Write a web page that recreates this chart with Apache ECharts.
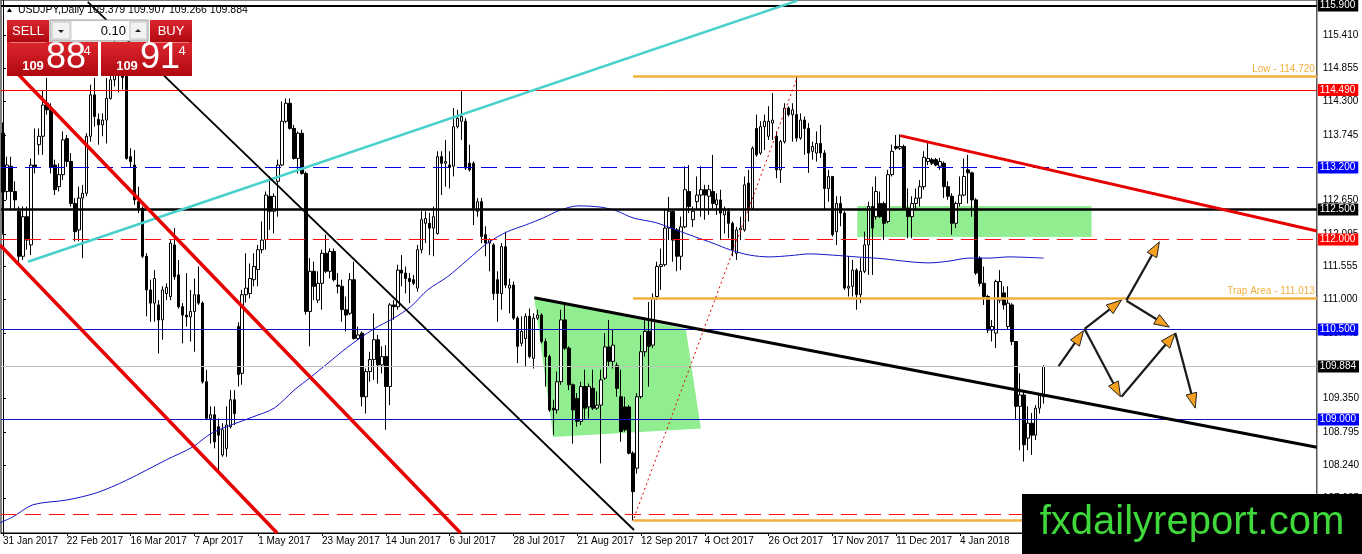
<!DOCTYPE html>
<html><head><meta charset="utf-8">
<script src="https://cdn.jsdelivr.net/npm/echarts@6/dist/echarts.min.js"></script>
<style>html,body{margin:0;padding:0;background:#fff}#c{width:1362px;height:554px}</style>
</head><body><div id="c"></div>
<script>
// Daily USDJPY bars: [open, high, low, close]
const ohlc = [
[113.77,113.95,112.08,112.79],[112.80,113.38,112.66,113.24],[113.22,113.38,112.49,112.80],[112.80,112.97,112.49,112.66],
[112.47,112.55,111.63,111.72],[111.72,112.55,111.66,112.38],[112.38,112.55,111.83,111.99],[111.91,113.35,111.74,113.24],
[113.24,113.85,113.10,113.21],[113.58,113.85,113.41,113.72],[113.72,114.49,113.41,114.24],[114.27,114.69,114.08,114.16],
[114.16,114.27,113.10,113.21],[113.24,113.33,112.74,112.83],[112.88,113.27,112.80,113.08],[113.08,113.80,112.99,113.66],
[113.68,113.74,113.21,113.30],[113.30,113.44,112.55,112.60],[112.60,112.69,111.97,112.13],[112.16,112.88,111.97,112.69],
[112.69,112.91,111.69,112.77],[112.77,113.77,112.72,113.72],[113.72,114.58,113.63,114.41],[114.41,114.69,113.88,114.05],
[114.00,114.10,113.58,113.91],[113.91,114.10,113.72,113.99],[113.99,114.69,113.60,114.35],[114.35,114.74,114.33,114.66],
[114.66,115.50,114.55,114.79],[114.79,115.05,114.45,114.75],[114.75,114.95,114.50,114.70],[114.72,114.78,113.33,113.35],
[113.38,113.52,113.19,113.30],[113.24,113.49,112.58,112.66],[112.63,112.88,112.44,112.52],[112.52,112.55,111.69,111.72],
[111.72,111.77,110.72,111.16],[111.16,111.33,110.63,110.94],[110.94,111.49,110.63,111.35],[110.91,110.99,110.10,110.66],
[110.66,111.22,110.33,111.16],[111.10,111.27,110.99,111.20],[111.05,111.99,110.99,111.94],[111.91,112.19,111.33,111.38],
[111.41,111.66,110.85,110.88],[110.88,110.94,110.27,110.74],[110.74,111.44,110.55,110.71],[110.71,111.16,110.30,110.80],
[110.80,111.35,110.13,111.08],[111.08,111.55,110.91,110.94],[110.94,110.97,109.60,109.63],[109.63,109.83,108.99,109.02],
[109.02,109.22,108.60,109.08],[109.08,109.22,108.52,108.63],[108.88,109.02,108.16,108.74],[108.41,108.94,108.38,108.83],
[108.52,109.22,108.38,108.91],[108.88,109.49,108.85,109.33],[109.33,109.49,108.91,109.10],[110.55,110.62,109.55,109.75],
[109.77,111.16,109.58,111.08],[111.08,111.77,110.95,111.19],[111.10,111.60,111.02,111.35],[111.33,111.77,111.22,111.55],
[111.50,111.91,111.22,111.83],[111.83,112.30,111.77,111.99],[112.00,112.80,111.83,112.74],[112.72,113.05,112.16,112.47],
[112.47,112.77,112.10,112.72],[112.97,113.33,112.38,113.24],[113.24,114.30,113.22,113.97],[113.97,114.35,113.94,114.27],
[114.27,114.35,113.83,113.85],[113.85,113.91,113.33,113.35],[113.35,113.80,113.10,113.77],[113.77,113.83,113.08,113.10],
[113.10,113.13,110.75,110.80],[110.80,111.69,110.22,111.47],[111.47,111.63,110.99,111.22],[110.99,111.47,110.94,111.27],
[111.27,111.83,110.83,111.77],[111.77,112.08,111.44,111.47],[111.47,111.85,111.35,111.80],[111.80,111.85,111.30,111.33],
[111.24,111.44,111.10,111.22],[111.22,111.33,110.63,110.83],[110.83,111.05,110.47,110.74],[110.77,111.44,110.74,111.33],
[111.33,111.63,110.33,110.35],[110.35,110.55,110.33,110.41],[110.44,110.47,109.22,109.38],[109.38,109.85,109.10,109.80],
[109.80,110.13,109.63,110.00],[110.00,110.77,109.66,110.33],[110.33,110.41,109.60,109.91],[109.91,110.22,109.77,110.05],
[110.05,110.24,108.83,109.55],[109.55,110.94,109.24,110.91],[110.91,110.99,110.66,110.88],[110.88,111.58,110.83,111.49],
[111.49,111.74,111.22,111.44],[111.44,111.55,111.10,111.35],[111.35,111.44,110.94,111.30],[111.33,111.41,111.24,111.27],
[111.19,111.91,111.13,111.83],[111.83,112.47,111.77,112.33],[112.27,112.47,111.94,112.35],[112.27,112.44,111.74,112.19],
[112.19,112.55,111.72,112.38],[112.10,113.47,112.08,113.38],[113.38,113.47,112.74,113.27],[113.27,113.66,112.88,113.30],
[113.24,113.47,112.85,113.20],[113.22,114.19,113.05,113.88],[113.88,114.16,113.85,114.02],[113.97,114.47,113.66,114.05],
[113.97,114.02,113.16,113.19],[113.27,113.58,113.13,113.16],[113.27,113.30,112.24,112.52],[112.47,112.69,112.38,112.63],
[112.63,112.69,111.94,112.05],[112.08,112.22,111.72,111.94],[111.94,112.02,111.47,112.00],[111.91,111.94,110.99,111.10],
[111.33,111.47,110.63,111.10],[111.10,111.94,110.83,111.88],[111.88,112.13,111.19,111.24],[111.19,111.35,110.77,111.24],
[111.24,111.30,110.66,110.69],[110.69,110.72,109.94,110.22],[110.27,110.72,110.22,110.47],[110.35,110.77,109.88,110.72],
[110.72,110.85,110.02,110.05],[110.02,110.77,109.85,110.69],[110.69,110.83,110.66,110.74],[110.74,110.77,110.27,110.30],
[110.30,110.35,109.55,110.05],[110.05,110.08,109.13,109.16],[109.19,109.33,108.74,109.16],[109.16,109.80,109.10,109.63],
[109.63,110.83,109.58,110.66],[110.66,110.94,110.16,110.19],[110.19,110.22,109.49,109.58],[109.58,109.60,108.60,109.16],
[109.35,109.44,108.88,108.97],[108.97,109.63,108.91,109.55],[109.55,109.83,108.99,109.19],[109.21,109.60,109.02,109.55],
[109.52,109.83,109.16,109.19],[109.19,109.47,109.16,109.24],[109.24,109.83,108.27,109.66],[109.69,110.44,109.66,110.21],
[110.21,110.66,109.88,109.97],[109.97,110.49,109.85,110.24],[109.90,109.95,109.38,109.52],[109.38,109.83,108.63,108.80],
[109.21,109.38,108.80,108.83],[109.21,109.24,108.42,108.44],[108.44,108.47,107.32,107.80],[108.19,109.44,108.10,109.38],
[109.38,110.41,109.35,110.13],[110.13,110.66,110.05,110.47],[110.47,110.96,109.55,110.22],[110.24,111.10,110.19,111.02],
[111.05,111.63,110.99,111.55],[111.55,111.85,111.16,111.58],[111.58,112.49,111.55,112.19],[112.19,112.71,111.99,112.47],
[112.47,112.49,111.63,111.99],[112.16,112.19,111.47,111.72],[111.72,112.38,111.49,112.21],[112.21,113.22,112.19,112.83],
[112.80,113.24,112.44,112.55],[112.33,112.55,112.21,112.47],[112.63,113.05,112.49,112.74],[112.74,113.22,112.38,112.83],
[112.83,112.91,112.33,112.74],[112.72,112.91,112.41,112.83],[112.80,113.41,112.52,112.60],[112.58,112.77,112.41,112.66],
[112.66,112.83,111.99,112.44],[112.41,112.55,112.10,112.49],[112.47,112.52,112.02,112.27],[112.27,112.30,111.72,111.83],
[111.77,112.21,111.66,112.16],[112.16,112.38,111.99,112.19],[112.16,113.05,112.13,112.91],[112.94,113.16,112.30,112.49],
[112.52,113.55,112.49,113.52],[113.85,114.08,113.38,113.41],[113.44,113.97,113.41,113.88],[113.88,114.08,113.49,113.97],
[113.72,114.22,113.66,113.97],[113.94,114.44,113.66,113.99],[113.72,113.80,113.02,113.16],[113.16,113.66,112.94,113.63],
[113.63,114.27,113.60,114.19],[114.19,114.22,114.05,114.08],[114.08,114.27,113.63,114.16],[114.08,114.72,113.63,113.69],
[113.69,114.10,113.66,113.99],[113.99,114.05,113.41,113.85],[113.85,113.94,113.11,113.44],[113.47,113.63,113.33,113.55],
[113.44,113.80,113.30,113.60],[113.60,113.91,113.36,113.44],[113.44,113.49,112.49,112.85],[112.85,113.16,112.63,113.05],
[113.05,113.05,112.05,112.08],[112.13,112.72,111.91,112.60],[112.60,112.72,112.22,112.44],[112.44,112.47,111.16,111.19],
[111.19,111.72,111.05,111.22],[111.22,111.66,111.05,111.49],[111.49,111.52,110.83,111.08],[111.08,111.69,110.94,111.47],
[111.47,112.13,111.44,111.91],[111.91,112.63,111.41,112.55],[112.55,112.88,111.41,112.19],[112.38,113.05,112.33,112.80],
[112.60,112.80,112.36,112.38],[112.60,112.63,111.99,112.27],[112.30,113.16,112.27,113.08],[113.08,113.58,113.05,113.47],
[113.55,113.74,113.49,113.52],[113.52,113.75,113.49,113.55],[113.55,113.58,112.49,112.52],[112.52,112.85,112.02,112.38],
[112.38,112.72,112.02,112.60],[112.60,112.85,112.49,112.69],[112.69,112.99,112.55,112.88],[112.88,113.47,112.83,113.37],
[113.30,113.63,113.24,113.35],[113.33,113.36,113.24,113.27],[113.33,113.36,113.22,113.24],[113.22,113.36,113.16,113.30],
[113.27,113.30,112.69,112.88],[112.88,112.97,112.66,112.72],[112.72,112.77,112.08,112.27],[112.27,112.63,112.19,112.60],
[112.60,113.05,112.55,112.74],[112.74,113.35,112.72,113.05],[113.16,113.41,112.60,113.11],[113.11,113.13,112.38,112.66],
[112.66,112.69,111.41,111.44],[111.69,111.72,111.22,111.27],[111.27,111.55,110.91,111.05],[111.05,111.08,110.44,110.49],
[110.49,110.66,110.30,110.55],[110.44,111.33,110.19,111.30],[110.99,111.49,110.94,111.30],[111.11,111.22,110.83,110.91],
[110.55,111.22,110.49,110.94],[110.91,110.94,110.24,110.30],[110.30,110.30,108.99,109.22],[109.22,109.77,108.49,109.41],
[109.41,109.49,108.30,108.58],[108.69,109.22,108.49,108.94],[108.94,109.11,108.41,108.74],[108.74,109.24,108.66,109.19],
[109.19,109.44,109.10,109.41],[109.379,109.907,109.266,109.884]
];
const totalSlots = 330;
const xTickLabels = ['31 Jan 2017','22 Feb 2017','16 Mar 2017','7 Apr 2017','1 May 2017','23 May 2017','14 Jun 2017','6 Jul 2017','28 Jul 2017','21 Aug 2017','12 Sep 2017','4 Oct 2017','26 Oct 2017','17 Nov 2017','11 Dec 2017','4 Jan 2018'];
const yTicks = [115.41,114.855,114.3,113.745,113.19,112.65,112.095,111.555,111.0,110.445,109.89,109.35,108.795,108.24,107.685];
// moving average: [bar index, price]
const maPoints = [[-0.75,107.28],[2.5,107.38],[7.5,107.58],[16,107.66],[23.5,107.78],[31,107.99],[41,108.33],[47.5,108.54],[52.5,108.78],[62.5,109.04],[68,109.19],[73,109.49],[77.25,109.71],[81.5,109.94],[86.5,110.21],[93,110.51],[98,110.69],[102.25,110.88],[106.5,111.16],[111.5,111.38],[116.5,111.66],[121.5,111.94],[126.5,112.13],[131,112.24],[135.5,112.36],[139.75,112.49],[144.25,112.56],[149.75,112.54],[153.75,112.48],[158,112.36],[163.75,112.28],[168.75,112.16],[173.75,112.04],[178,111.94],[182.25,111.83],[187.25,111.74],[192.25,111.71],[197.25,111.73],[202.25,111.76],[208,111.74],[214,111.71],[220.5,111.68],[227.25,111.63],[232.25,111.61],[237.25,111.64],[242.25,111.69],[247.25,111.69],[252.25,111.71],[261,111.69]];
// horizontal levels
const levelValues = [115.9,114.49,113.2,112.5,112.0,110.5,109.884,109.0,107.43];
const levelTags = ['115.900','114.490','113.200','112.500','112.000','110.500','109.884','109.000',''];
const zoneLevels = [114.72,111.013,107.32];
const zoneTags = ['Low - 114.720','Trap Area - 111.013',''];
const zoneStart = 158;
// trend lines: [[bar, price],[bar, price]]
const cyanLine = [[6.25,111.63],[199.25,115.98]];
const redChannelUpper = [[2.25,114.86],[114.75,107.11]];
const redChannelLower = [[-0.75,111.91],[68.75,107.11]];
const blackThin = [[21.25,115.96],[158.25,107.16]];
const blackThick = [[133.25,111.03],[329.5,108.54]];
const redFalling = [[225,113.73],[329.5,112.14]];
const redDotted = [[158.25,107.36],[199.25,114.71]];
// green zones: 4 vertices each [x1,y1,x2,y2,x3,y3,x4,y4]
const greenZones = [
  [214.25,112.56,273,112.56,273,112.04,214.25,112.04],
  [133.25,111.03,171.25,110.51,175,108.85,138,108.71]
];
// scenario arrows: [fromBar, fromPrice, toBar, toPrice]
const arrows = [
  [264.75,109.89,271,110.48],[271.25,110.51,280.5,110.99],[281.75,110.99,290,111.96],
  [281.75,110.98,292.5,110.54],[271.25,110.51,280.25,109.38],[280.5,109.38,294,110.44],[294,110.44,299,109.19]
];

const FONT = 'Liberation Sans';
const cats = Array.from({length: totalSlots}, (_, i) => String(i));
const candleData = ohlc.map(r => [r[0], r[3], r[2], r[1]]);
const tickShown = idx => idx % 16 === 0 && idx / 16 < xTickLabels.length;

const levelStyle = [
  {color:'#000', width:2, type:'solid', bg:'#000'},
  {color:'#ff0000', width:1, type:'solid', bg:'#ff0000'},
  {color:'#0000e0', width:1.2, type:[16,8], bg:'#0000ff'},
  {color:'#000', width:2.5, type:'solid', bg:'#000'},
  {color:'#ff1010', width:1.2, type:[16,8], bg:'#ff0000'},
  {color:'#1010c8', width:1.2, type:'solid', bg:'#0000ff'},
  {color:'#c0c0c0', width:1, type:'solid', bg:'#000'},
  {color:'#1010c8', width:1.2, type:'solid', bg:'#0000ff'},
  {color:'#ff1010', width:1.2, type:[16,8], bg:'#ff0000'}
];
const ORANGE = '#f2b040';

const markData = [];
levelValues.forEach((v, k) => {
  const st = levelStyle[k];
  markData.push([
    {coord:[-0.5, v], name: levelTags[k], lineStyle:{color:st.color, width:st.width, type:st.type},
     label:{show: !!levelTags[k], position:'end', distance:1, formatter:'{b}', color:'#fff', backgroundColor:st.bg,
            padding:[1,3,0,2], fontSize:10, fontFamily:FONT, lineHeight:11}},
    {coord:[329.5, v]}
  ]);
});
zoneLevels.forEach((v, k) => {
  markData.push([
    {coord:[zoneStart, v], name: zoneTags[k], lineStyle:{color:ORANGE, width:2.5, type:'solid'},
     label:{show: !!zoneTags[k], position:'insideEndTop', distance:2, formatter:'{b}', color:ORANGE, fontSize:10, fontFamily:FONT}},
    {coord:[329.5, v]}
  ]);
});

function trend(data, color, width, type, z) {
  return {type:'line', xAxisIndex:1, yAxisIndex:0, data, symbol:'none', silent:true, z:z||5,
    lineStyle:{color, width, type:type||'solid'}, clip:true, animation:false};
}

const last = ohlc[ohlc.length-1];
const titleText = 'USDJPY,Daily ' + last.map(v => v.toFixed(3)).join(' ');

const redGrad = {type:'linear', x:0, y:0, x2:0, y2:1, colorStops:[{offset:0,color:'#dc262d'},{offset:1,color:'#b00810'}]};

const chart = echarts.init(document.getElementById('c'), null, {renderer:'canvas'});
chart.setOption({
  animation:false,
  backgroundColor:'#fff',
  textStyle:{fontFamily:FONT},
  grid:{left:1, right:43, top:0, bottom:21, show:true, borderColor:'#000', borderWidth:1, backgroundColor:'transparent'},
  xAxis:[
    {type:'category', data:cats, boundaryGap:true,
     axisLine:{show:true, lineStyle:{color:'#000', width:1}},
     axisTick:{show:true, alignWithLabel:true, interval:(i)=>tickShown(i), length:3, lineStyle:{color:'#000'}},
     axisLabel:{interval:(i)=>tickShown(i), formatter:(v, i)=>xTickLabels[i/16] || '', align:'left', color:'#000', fontSize:10, fontFamily:FONT, margin:3},
     splitLine:{show:false}},
    {type:'value', min:-0.5, max:329.5, show:false}
  ],
  yAxis:[{type:'value', position:'right', min:107.11, max:115.99, scale:true,
    axisLine:{show:true, lineStyle:{color:'#000'}},
    axisTick:{show:true, customValues:yTicks, length:3, lineStyle:{color:'#000'}},
    axisLabel:{customValues:yTicks, formatter:(v)=>v.toFixed(3), color:'#000', fontSize:10, fontFamily:FONT, margin:6, align:'left'},
    splitLine:{show:false}}],
  series:[
    {type:'custom', xAxisIndex:1, yAxisIndex:0, z:1, silent:true, clip:true, data:greenZones,
     renderItem:(params, api)=>{
       const pts=[]; for(let k=0;k<8;k+=2) pts.push(api.coord([api.value(k), api.value(k+1)]));
       return {type:'polygon', shape:{points:pts}, style:{fill:'#90ee90'}};
     }},
    {type:'candlestick', xAxisIndex:0, yAxisIndex:0, z:3, data:candleData, barWidth:3, silent:true,
     itemStyle:{color:'#fff', color0:'#000', borderColor:'#000', borderColor0:'#000', borderWidth:1}},
    {type:'line', xAxisIndex:1, yAxisIndex:0, z:4, data:maPoints, symbol:'none', silent:true, smooth:0.3,
     lineStyle:{color:'#1414c8', width:1},
     markLine:{silent:true, symbol:['none','none'], animation:false, data:markData}},
    trend(cyanLine, '#48d1cc', 2.5),
    trend(redChannelUpper, '#e60000', 3.5),
    trend(redChannelLower, '#e60000', 3.5),
    trend(blackThin, '#000', 1.8),
    trend(blackThick, '#000', 3),
    trend(redFalling, '#e60000', 3),
    trend(redDotted, '#e00000', 1, [2,3]),
    {type:'custom', xAxisIndex:1, yAxisIndex:0, z:8, silent:true, data:arrows, clip:false,
     renderItem:(params, api)=>{
       const a = api.coord([api.value(0), api.value(1)]);
       const b = api.coord([api.value(2), api.value(3)]);
       const dx=b[0]-a[0], dy=b[1]-a[1], L=Math.hypot(dx,dy);
       const ux=dx/L, uy=dy/L, head=15, half=5.5;
       const base=[b[0]-ux*head, b[1]-uy*head];
       return {type:'group', children:[
         {type:'line', shape:{x1:a[0],y1:a[1],x2:base[0],y2:base[1]}, style:{stroke:'#1a1a1a', lineWidth:2.2}},
         {type:'polygon', shape:{points:[b,[base[0]-uy*half, base[1]+ux*half],[base[0]+uy*half, base[1]-ux*half]]},
          style:{fill:'#f5a01e', stroke:'#222', lineWidth:1}}
       ]};
     }}
  ],
  graphic:[
    {type:'polygon', z:100, shape:{points:[[7,12],[12,12],[9.5,8]]}, style:{fill:'#000'}},
    {type:'text', z:100, x:18, y:10, style:{text:titleText, fill:'#000', font:'10.5px "Liberation Sans"', verticalAlign:'middle'}},
    // trade panel
    {type:'rect', z:100, shape:{x:7,y:20,width:42,height:22}, style:{fill:redGrad}},
    {type:'text', z:101, x:28, y:31, style:{text:'SELL', fill:'#fff', font:'13px "Liberation Sans"', align:'center', verticalAlign:'middle'}},
    {type:'rect', z:100, shape:{x:50,y:20,width:98,height:21}, style:{fill:'#e6e6e6', stroke:'#9a9a9a', lineWidth:1}},
    {type:'rect', z:101, shape:{x:52,y:22,width:18,height:17}, style:{fill:'#f2f2f2', stroke:'#c4c4c4', lineWidth:1}},
    {type:'polygon', z:102, shape:{points:[[58,30],[64,30],[61,33]]}, style:{fill:'#222'}},
    {type:'rect', z:101, shape:{x:72,y:21,width:57,height:19}, style:{fill:'#fff'}},
    {type:'text', z:102, x:126, y:31, style:{text:'0.10', fill:'#000', font:'13px "Liberation Sans"', align:'right', verticalAlign:'middle'}},
    {type:'rect', z:101, shape:{x:130,y:22,width:17,height:17}, style:{fill:'#f2f2f2', stroke:'#c4c4c4', lineWidth:1}},
    {type:'polygon', z:102, shape:{points:[[135,32],[141,32],[138,29]]}, style:{fill:'#222'}},
    {type:'rect', z:100, shape:{x:150,y:20,width:42,height:22}, style:{fill:redGrad}},
    {type:'text', z:101, x:171, y:31, style:{text:'BUY', fill:'#fff', font:'13px "Liberation Sans"', align:'center', verticalAlign:'middle'}},
    {type:'rect', z:100, shape:{x:7,y:42,width:91,height:34}, style:{fill:redGrad}},
    {type:'rect', z:100, shape:{x:101,y:42,width:91,height:34}, style:{fill:redGrad}},
    {type:'line', z:101, shape:{x1:10,y1:42.5,x2:46,y2:42.5}, style:{stroke:'#e87a7a', lineWidth:1}},
    {type:'line', z:101, shape:{x1:153,y1:42.5,x2:189,y2:42.5}, style:{stroke:'#e87a7a', lineWidth:1}},
    {type:'text', z:101, x:33, y:66, style:{text:'109', fill:'#fff', font:'bold 13px "Liberation Sans"', align:'center', verticalAlign:'middle'}},
    {type:'text', z:101, x:46, y:58, style:{text:'88', fill:'#fff', font:'36px "Liberation Sans"', verticalAlign:'middle'}},
    {type:'text', z:101, x:87, y:51, style:{text:'4', fill:'#fff', font:'13px "Liberation Sans"', align:'center', verticalAlign:'middle'}},
    {type:'text', z:101, x:127, y:66, style:{text:'109', fill:'#fff', font:'bold 13px "Liberation Sans"', align:'center', verticalAlign:'middle'}},
    {type:'text', z:101, x:140, y:58, style:{text:'91', fill:'#fff', font:'36px "Liberation Sans"', verticalAlign:'middle'}},
    {type:'text', z:101, x:182, y:51, style:{text:'4', fill:'#fff', font:'13px "Liberation Sans"', align:'center', verticalAlign:'middle'}},
    // logo
    {type:'rect', z:100, shape:{x:1022,y:494,width:340,height:60}, style:{fill:'#000'}},
    {type:'text', z:101, x:1192, y:523, style:{text:'fxdailyreport.com', fill:'#3fd83a', font:'40px "Liberation Sans"', align:'center', verticalAlign:'middle'}}
  ]
});
</script></body></html>
